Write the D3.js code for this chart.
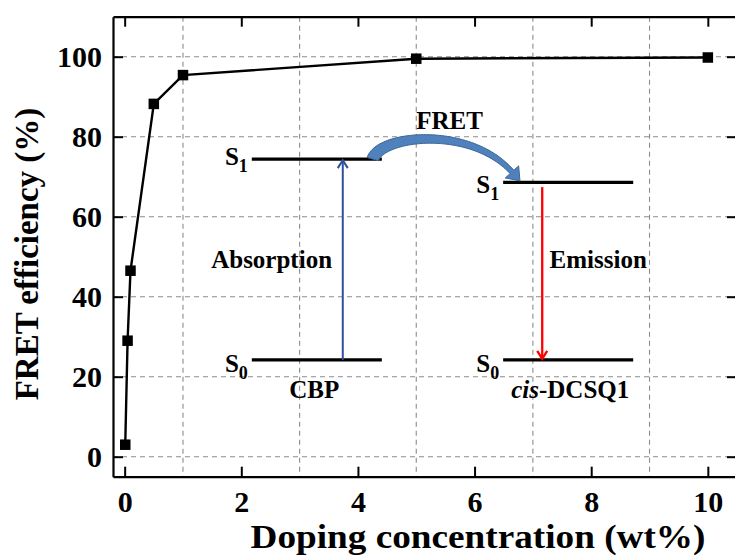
<!DOCTYPE html>
<html>
<head>
<meta charset="utf-8">
<script src="https://cdn.jsdelivr.net/npm/d3@7"></script>
<style>
  body { margin: 0; background: #fff; }
  svg { display: block; }
  text { font-family: "Liberation Serif", "Times New Roman", serif; font-weight: bold; fill: #000; }
</style>
</head>
<body>
<svg id="chart" width="735" height="557"></svg>
<script>
// FRET efficiency vs. doping concentration
const concentration = [0.01, 0.05, 0.1, 0.5, 1, 5, 10];   // wt%
const efficiency    = [3.0, 29.0, 46.5, 88.2, 95.4, 99.5, 99.8]; // %

const xTicks = [0, 2, 4, 6, 8, 10];
const yTicks = [0, 20, 40, 60, 80, 100];
const xGrid  = [1, 3, 5, 7, 9];
const yGrid  = [0, 20, 40, 60, 80, 100];

// Energy-level inset, expressed in data units of the main axes
const levelNames  = ["S1", "S0", "S1", "S0"];
const levelX0     = [2.18, 2.18, 6.49, 6.49];
const levelX1     = [4.41, 4.41, 8.72, 8.72];
const levelY      = [74.4, 24.2, 68.6, 24.2];
const levelLabelDy = [6, 12, 11, 12];

const transitionNames = ["Absorption", "Emission"];
const transitionX     = [3.74, 7.16];
const transitionFrom  = [24.2, 67.4];
const transitionTo    = [74.4, 24.2];
const transitionColor = ["#2f4f9c", "#ff0000"];

// FRET curved arrow centreline (cubic Bezier control points)
const fretCurveX = [4.257, 4.377, 5.921, 6.641];
const fretCurveY = [74.4, 80.4, 82.9, 71.2];

const W = 735, H = 557;
const plot = { left: 113, right: 737, top: 16.7, bottom: 476.7 };

const x = d3.scaleLinear().domain([-0.2, 10.5]).range([plot.left, plot.right]);
const y = d3.scaleLinear().domain([-5, 110]).range([plot.bottom, plot.top]);

const svg = d3.select("#chart");
const serif = '"Liberation Serif", "Times New Roman", serif';

// grid
const grid = svg.append("g").attr("stroke", "#8c8c8c").attr("stroke-width", 1.1)
  .attr("stroke-dasharray", "5,4");
grid.selectAll("line.v").data(xGrid).join("line").attr("class", "v")
  .attr("x1", d => x(d)).attr("x2", d => x(d))
  .attr("y1", plot.top).attr("y2", plot.bottom);
grid.selectAll("line.h").data(yGrid).join("line").attr("class", "h")
  .attr("x1", plot.left).attr("x2", plot.right)
  .attr("y1", d => y(d)).attr("y2", d => y(d));

// axes with inward ticks
const tickLen = 10;
const bottomAxis = svg.append("g").attr("transform", `translate(0,${plot.bottom})`)
  .call(d3.axisBottom(x).tickValues(xTicks).tickSizeInner(-tickLen).tickSizeOuter(0).tickFormat(d3.format("d")));
const topAxis = svg.append("g").attr("transform", `translate(0,${plot.top})`)
  .call(d3.axisTop(x).tickValues(xTicks).tickSizeInner(-tickLen).tickSizeOuter(0).tickFormat(""));
const leftAxis = svg.append("g").attr("transform", `translate(${plot.left},0)`)
  .call(d3.axisLeft(y).tickValues(yTicks).tickSizeInner(-tickLen).tickSizeOuter(0).tickFormat(d3.format("d")));
const rightAxis = svg.append("g").attr("transform", `translate(${plot.right},0)`)
  .call(d3.axisRight(y).tickValues(yTicks).tickSizeInner(-tickLen).tickSizeOuter(0).tickFormat(""));

[bottomAxis, topAxis, leftAxis, rightAxis].forEach(g => {
  g.select(".domain").attr("stroke", "#000").attr("stroke-width", 2.2);
  g.selectAll(".tick line").attr("stroke", "#000").attr("stroke-width", 2);
  g.selectAll(".tick text").attr("font-size", 30).attr("fill", "#000")
    .style("font-family", serif).style("font-weight", "bold");
});
bottomAxis.selectAll(".tick text").attr("y", 35).attr("dy", 0);
leftAxis.selectAll(".tick text").attr("x", -11).attr("dy", "0.31em");

// axis titles
svg.append("text").attr("x", 478).attr("y", 548).attr("text-anchor", "middle")
  .attr("font-size", 34).attr("textLength", 455).attr("lengthAdjust", "spacingAndGlyphs")
  .text("Doping concentration (wt%)");
svg.append("text").attr("transform", "translate(37.5,254) rotate(-90)")
  .attr("text-anchor", "middle").attr("font-size", 33).text("FRET efficiency (%)");

// data line and markers
const pts = concentration.map((c, i) => [c, efficiency[i]]);
svg.append("path").datum(pts)
  .attr("fill", "none").attr("stroke", "#000").attr("stroke-width", 2.4)
  .attr("d", d3.line().x(d => x(d[0])).y(d => y(d[1])));
const m = 10.5;
svg.selectAll("rect.pt").data(pts).join("rect").attr("class", "pt")
  .attr("x", d => x(d[0]) - m / 2).attr("y", d => y(d[1]) - m / 2)
  .attr("width", m).attr("height", m).attr("fill", "#000");

// ---- energy-level diagram ----
const inset = svg.append("g");
levelNames.forEach((nm, i) => {
  inset.append("line")
    .attr("x1", x(levelX0[i])).attr("x2", x(levelX1[i]))
    .attr("y1", y(levelY[i])).attr("y2", y(levelY[i]))
    .attr("stroke", "#000").attr("stroke-width", 3.2);
  const t = inset.append("text").attr("x", x(levelX0[i]) - 4).attr("y", y(levelY[i]) + levelLabelDy[i])
    .attr("text-anchor", "end").attr("font-size", 25);
  t.append("tspan").text(nm[0]);
  t.append("tspan").attr("font-size", 18).attr("dy", 7).text(nm[1]);
});

// transitions
transitionNames.forEach((nm, i) => {
  const xp = x(transitionX[i]);
  const y0 = y(transitionFrom[i]), y1 = y(transitionTo[i]);
  const dir = Math.sign(y1 - y0);
  const col = transitionColor[i];
  const sw = i === 0 ? 2 : 2.3;
  inset.append("line").attr("x1", xp).attr("x2", xp).attr("y1", y0).attr("y2", y1 - dir * 1)
    .attr("stroke", col).attr("stroke-width", sw);
  inset.append("path")
    .attr("d", `M${xp - 5},${y1 - dir * 9} L${xp},${y1 - dir * 1} L${xp + 5},${y1 - dir * 9}`)
    .attr("fill", "none").attr("stroke", col).attr("stroke-width", sw);
});

// labels
inset.append("text").attr("x", x(2.52)).attr("y", y(47.2)).attr("text-anchor", "middle")
  .attr("font-size", 25).text("Absorption");
inset.append("text").attr("x", x(8.12)).attr("y", y(47.2)).attr("text-anchor", "middle")
  .attr("font-size", 25).text("Emission");
inset.append("text").attr("x", x(3.25)).attr("y", y(14.7)).attr("text-anchor", "middle")
  .attr("font-size", 25).text("CBP");
const cis = inset.append("text").attr("x", x(7.64)).attr("y", y(14.7)).attr("text-anchor", "middle")
  .attr("font-size", 25);
cis.append("tspan").attr("font-style", "italic").text("cis");
cis.append("tspan").text("-DCSQ1");
inset.append("text").attr("x", x(5.57)).attr("y", y(81.9)).attr("text-anchor", "middle")
  .attr("font-size", 25).text("FRET");

// FRET curved arrow: tapered band along a cubic Bezier with a triangular head
(function () {
  const P = fretCurveX.map((cx, i) => [x(cx), y(fretCurveY[i])]);
  const bez = t => {
    const u = 1 - t;
    return [
      u*u*u*P[0][0] + 3*u*u*t*P[1][0] + 3*u*t*t*P[2][0] + t*t*t*P[3][0],
      u*u*u*P[0][1] + 3*u*u*t*P[1][1] + 3*u*t*t*P[2][1] + t*t*t*P[3][1]
    ];
  };
  const deriv = t => {
    const u = 1 - t;
    return [
      3*u*u*(P[1][0]-P[0][0]) + 6*u*t*(P[2][0]-P[1][0]) + 3*t*t*(P[3][0]-P[2][0]),
      3*u*u*(P[1][1]-P[0][1]) + 6*u*t*(P[2][1]-P[1][1]) + 3*t*t*(P[3][1]-P[2][1])
    ];
  };
  const N = 60, w0 = 12, w1 = 5, headHalf = 9, headLen = 12;
  const left = [], right = [];
  for (let k = 0; k <= N; k++) {
    const t = k / N;
    const p = bez(t), d = deriv(t);
    const L = Math.hypot(d[0], d[1]);
    const nx = -d[1] / L, ny = d[0] / L;
    const w = (w0 + (w1 - w0) * t) / 2;
    left.push([p[0] + nx * w, p[1] + ny * w]);
    right.push([p[0] - nx * w, p[1] - ny * w]);
  }
  const pe = bez(1), de = deriv(1), Le = Math.hypot(de[0], de[1]);
  const tx = de[0] / Le, ty = de[1] / Le, nx = -ty, ny = tx;
  const tip = [pe[0] + tx * headLen, pe[1] + ty * headLen];
  const poly = [
    ...left,
    [pe[0] + nx * headHalf, pe[1] + ny * headHalf],
    tip,
    [pe[0] - nx * headHalf, pe[1] - ny * headHalf],
    ...right.reverse()
  ];
  inset.append("path")
    .attr("d", "M" + poly.map(p => p.join(",")).join("L") + "Z")
    .attr("fill", "#4f81bd").attr("stroke", "#3b6796").attr("stroke-width", 1);
})();
</script>
</body>
</html>
